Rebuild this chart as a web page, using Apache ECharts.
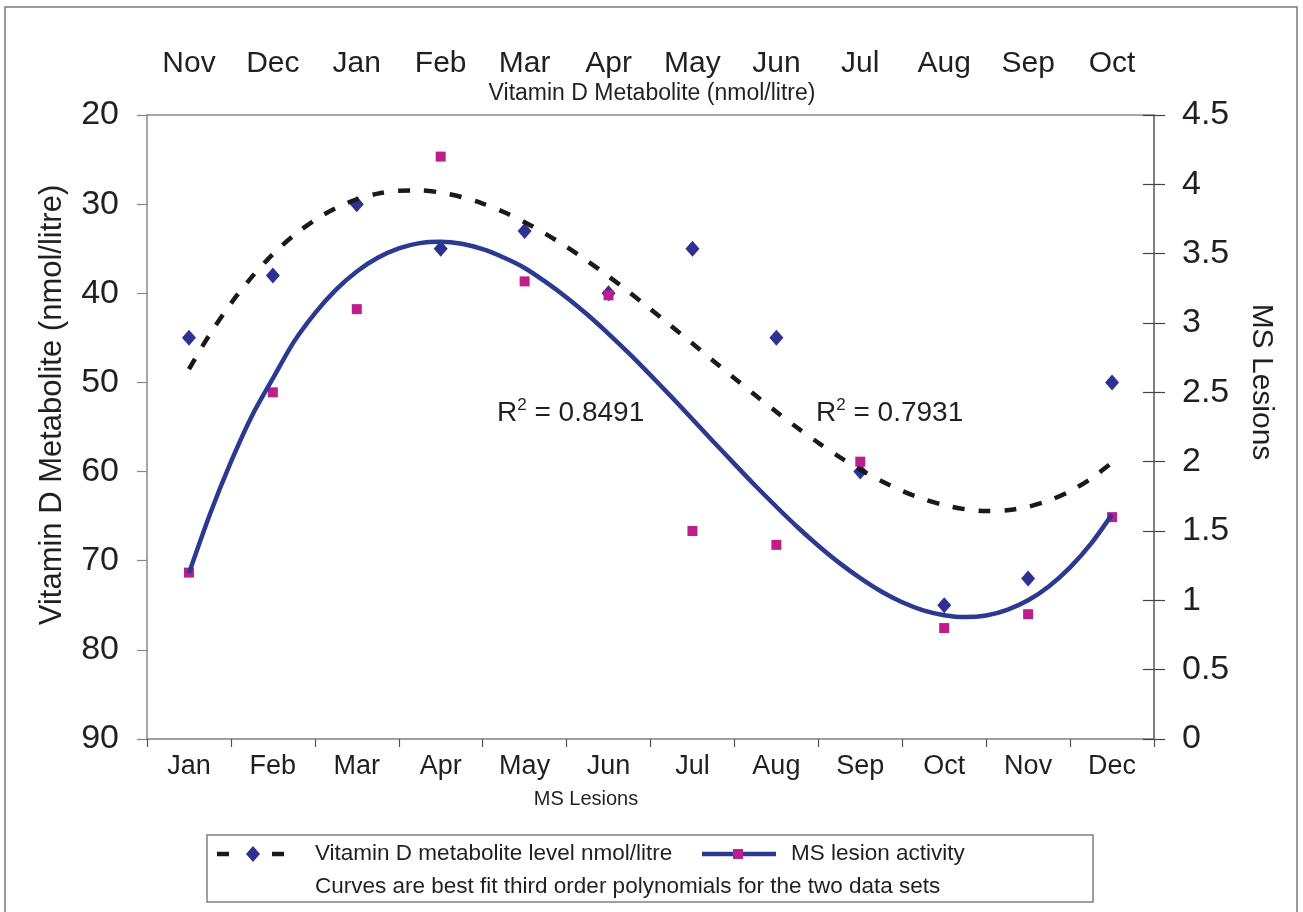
<!DOCTYPE html>
<html>
<head>
<meta charset="utf-8">
<script src="https://cdn.jsdelivr.net/npm/echarts@6/dist/echarts.min.js"></script>
<style>
html,body{margin:0;padding:0;background:#fff;}
#chart{width:1303px;height:912px;}
</style>
</head>
<body>
<div id="chart"></div>
<script>
// ---- data ----
const months = ['Jan','Feb','Mar','Apr','May','Jun','Jul','Aug','Sep','Oct','Nov','Dec'];
const topMonths = ['Nov','Dec','Jan','Feb','Mar','Apr','May','Jun','Jul','Aug','Sep','Oct'];
const vitaminD = [45, 38, 30, 35, 33, 40, 35, 45, 60, 75, 72, 50];
const msLesions = [1.2, 2.5, 3.1, 4.2, 3.3, 3.2, 1.5, 1.4, 2.0, 0.8, 0.9, 1.6];
// trend curves (third order polynomial fits) at quarter-month steps
const trendPos = [0,0.25,0.5,0.75,1,1.25,1.5,1.75,2,2.25,2.5,2.75,3,3.25,3.5,3.75,4,4.25,4.5,4.75,5,5.25,5.5,5.75,6,6.25,6.5,6.75,7,7.25,7.5,7.75,8,8.25,8.5,8.75,9,9.25,9.5,9.75,10,10.25,10.5,10.75,11];
const vitaminTrend = [48.5,44.58,41.14,38.16,35.6,33.51,31.79,30.45,29.46,28.82,28.49,28.46,28.7,29.2,29.93,30.88,32.02,33.33,34.8,36.39,38.1,39.9,41.77,43.69,45.64,47.59,49.53,51.44,53.3,55.09,56.77,58.35,59.79,61.06,62.17,63.08,63.77,64.22,64.42,64.33,63.95,63.24,62.2,60.79,59.0];
const msTrend = [1.195,1.621,1.998,2.33,2.6,2.864,3.07,3.239,3.372,3.47,3.538,3.576,3.586,3.571,3.532,3.472,3.397,3.296,3.184,3.059,2.922,2.777,2.624,2.467,2.306,2.144,1.984,1.826,1.675,1.529,1.394,1.27,1.16,1.064,0.986,0.928,0.893,0.879,0.891,0.932,1.001,1.102,1.238,1.409,1.62];
const r2Vitamin = '0.7931';
const r2MS = '0.8491';

const FONT = '"Liberation Sans", Arial, Helvetica, sans-serif';
const TXT = '#231f20';

const chart = echarts.init(document.getElementById('chart'), null, {renderer: 'canvas'});

function txt(x, y, text, size, opts) {
  return Object.assign({
    type: 'text', x: x, y: y, silent: true,
    style: Object.assign({
      text: text, fill: TXT, font: size + 'px ' + FONT,
      textAlign: 'center', textVerticalAlign: 'middle',
      align: 'center', verticalAlign: 'middle'
    }, (opts && opts.style) || {})
  }, (opts && opts.el) || {});
}

function r2(x, y, val) {
  return {
    type: 'text', x: x, y: y, silent: true,
    style: {
      text: '{a|R}{s|2}{a| = ' + val + '}',
      textAlign: 'left', textVerticalAlign: 'middle', align: 'left', verticalAlign: 'middle',
      rich: {
        a: {fontSize: 28, fontFamily: FONT, fill: TXT, color: TXT, lineHeight: 32},
        s: {fontSize: 17, fontFamily: FONT, fill: TXT, color: TXT, lineHeight: 17, verticalAlign: 'top'}
      }
    }
  };
}

const option = {
  backgroundColor: '#fff',
  animation: false,
  grid: {left: 147, right: 149, top: 115, bottom: 173, outerBoundsMode: 'none'},
  xAxis: [
    {
      type: 'category', data: months, position: 'bottom', boundaryGap: true,
      axisLine: {onZero: false, lineStyle: {color: '#808080', width: 1.5}},
      axisTick: {show: true, inside: false, length: 8, lineStyle: {color: '#555', width: 1.2}},
      axisLabel: {fontSize: 27, fontFamily: FONT, color: TXT, margin: 14},
      splitLine: {show: false}
    },
    {
      type: 'category', data: topMonths, position: 'top', boundaryGap: true,
      axisLine: {onZero: false, lineStyle: {color: '#8a8a8a', width: 1.5}},
      axisTick: {show: false},
      axisLabel: {fontSize: 30, fontFamily: FONT, color: TXT, margin: 36},
      splitLine: {show: false}
    },
    {
      type: 'value', min: -0.5, max: 11.5, show: false, position: 'bottom',
      axisLine: {onZero: false}
    }
  ],
  yAxis: [
    {
      type: 'value', position: 'left', inverse: true, min: 20, max: 90, interval: 10,
      axisLine: {show: true, onZero: false, lineStyle: {color: '#888', width: 1.5}},
      axisTick: {show: true, inside: false, length: 10, lineStyle: {color: '#888', width: 1.2}},
      axisLabel: {fontSize: 34, fontFamily: FONT, color: TXT, margin: 28},
      splitLine: {show: false}
    },
    {
      type: 'value', position: 'right', min: 0, max: 4.5, interval: 0.5,
      axisLine: {show: true, onZero: false, lineStyle: {color: '#555', width: 1.5}},
      axisTick: {show: true, inside: false, length: 11, lineStyle: {color: '#444', width: 1.2}},
      axisLabel: {fontSize: 34, fontFamily: FONT, color: TXT, margin: 28},
      splitLine: {show: false}
    },
    {
      type: 'value', position: 'right', min: 0, max: 4.5, interval: 0.5,
      axisLine: {show: false, onZero: false},
      axisTick: {show: true, inside: true, length: 11, lineStyle: {color: '#444', width: 1.2}},
      axisLabel: {show: false},
      splitLine: {show: false}
    }
  ],
  series: [
    {
      name: 'Vitamin D metabolite level nmol/litre', type: 'scatter',
      xAxisIndex: 0, yAxisIndex: 0, data: vitaminD,
      symbol: 'diamond', symbolSize: [14, 16],
      itemStyle: {color: '#2e3192', opacity: 1}, z: 3
    },
    {
      name: 'MS lesion activity', type: 'scatter',
      xAxisIndex: 0, yAxisIndex: 1, data: msLesions,
      symbol: 'rect', symbolSize: 10,
      itemStyle: {color: '#be1e8c', opacity: 1}, z: 4
    },
    {
      name: 'MS trend', type: 'line', xAxisIndex: 2, yAxisIndex: 1,
      data: trendPos.map((x, i) => [x, msTrend[i]]),
      smooth: 0.3, showSymbol: false, symbol: 'none',
      lineStyle: {color: '#2b3990', width: 4.5}, z: 5
    },
    {
      name: 'Vitamin D trend', type: 'line', xAxisIndex: 2, yAxisIndex: 0,
      data: trendPos.map((x, i) => [x, vitaminTrend[i]]),
      smooth: 0.3, showSymbol: false, symbol: 'none',
      lineStyle: {color: '#1a1a1a', width: 4.5, type: [12, 14], cap: 'butt'}, z: 6
    }
  ],
  graphic: [
    // outer frame
    {type: 'rect', silent: true, shape: {x: 5, y: 7, width: 1292, height: 912},
     style: {fill: 'none', stroke: '#7a7a7a', lineWidth: 1.5}},
    // axis titles
    txt(652, 94, 'Vitamin D Metabolite (nmol/litre)', 23),
    txt(586, 799, 'MS Lesions', 20),
    txt(52, 405, 'Vitamin D Metabolite (nmol/litre)', 31, {el: {rotation: Math.PI / 2}}),
    txt(1261, 382, 'MS Lesions', 30, {el: {rotation: -Math.PI / 2}}),
    // R squared
    r2(497, 413, r2MS),
    r2(816, 413, r2Vitamin),
    // legend box
    {type: 'rect', silent: true, shape: {x: 207, y: 835, width: 886, height: 67},
     style: {fill: '#fff', stroke: '#808080', lineWidth: 1.5}},
    {type: 'line', silent: true, shape: {x1: 217, y1: 854, x2: 229, y2: 854}, style: {stroke: '#1a1a1a', lineWidth: 4.5}},
    {type: 'line', silent: true, shape: {x1: 272, y1: 854, x2: 284, y2: 854}, style: {stroke: '#1a1a1a', lineWidth: 4.5}},
    {type: 'polygon', silent: true, shape: {points: [[253, 846], [260, 854], [253, 862], [246, 854]]}, style: {fill: '#2e3192'}},
    {type: 'line', silent: true, shape: {x1: 702, y1: 854, x2: 776, y2: 854}, style: {stroke: '#2b3990', lineWidth: 4.5}},
    {type: 'rect', silent: true, shape: {x: 733, y: 849, width: 10, height: 10}, style: {fill: '#be1e8c'}},
    txt(315, 854, 'Vitamin D metabolite level nmol/litre', 22.5, {style: {textAlign: 'left', align: 'left'}}),
    txt(791, 854, 'MS lesion activity', 22.5, {style: {textAlign: 'left', align: 'left'}}),
    txt(315, 887, 'Curves are best fit third order polynomials for the two data sets', 22.5, {style: {textAlign: 'left', align: 'left'}})
  ]
};
chart.setOption(option);
</script>
</body>
</html>
